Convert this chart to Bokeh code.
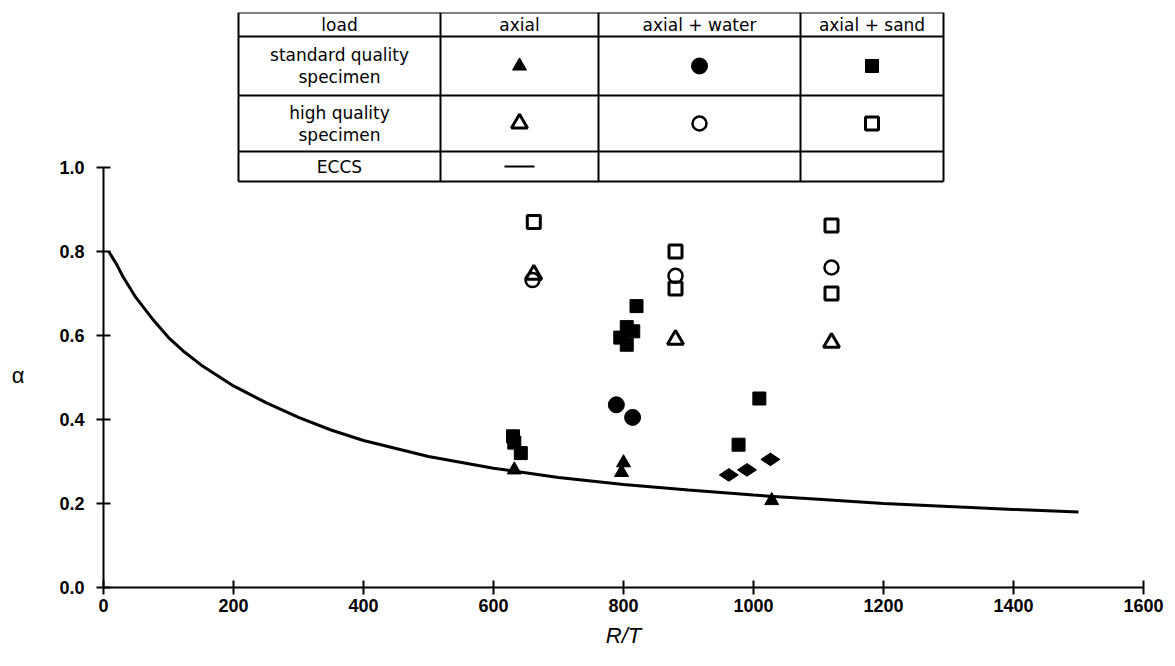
import math
from bokeh.plotting import figure
from bokeh.models import FixedTicker, NumeralTickFormatter
from bokeh.core.properties import value
from bokeh.embed import file_html
from bokeh.resources import INLINE

# ---------------- data ----------------
# standard quality specimens
std_axial_rt = [632, 797, 800, 1028]
std_axial_a = [0.28, 0.274, 0.297, 0.207]
std_water_rt = [789, 814]
std_water_a = [0.435, 0.405]
std_sand_rt = [630, 632, 642, 795, 805, 815, 805, 820, 977, 1009]
std_sand_a = [0.36, 0.345, 0.32, 0.595, 0.62, 0.61, 0.578, 0.67, 0.34, 0.45]
# high quality specimens
hq_axial_rt = [662, 880, 1120]
hq_axial_a = [0.745, 0.59, 0.583]
hq_water_rt = [660, 880, 1120]
hq_water_a = [0.732, 0.742, 0.762]
hq_sand_rt = [662, 880, 880, 1120, 1120]
hq_sand_a = [0.87, 0.80, 0.712, 0.862, 0.70]
# other (diamonds)
other_rt = [962, 990, 1026]
other_a = [0.268, 0.28, 0.305]
# ECCS curve
eccs_rt = [8, 20, 30, 50, 75, 100, 125, 150, 200, 250, 300, 350, 400, 500, 600, 700,
           800, 900, 1000, 1100, 1200, 1300, 1400, 1500]
eccs_a = [0.80, 0.77, 0.74, 0.69, 0.64, 0.595, 0.56, 0.53, 0.48, 0.44, 0.405, 0.375,
          0.35, 0.312, 0.284, 0.262, 0.245, 0.232, 0.22, 0.21, 0.20, 0.193, 0.186, 0.18]

x_ticks = [0, 200, 400, 600, 800, 1000, 1200, 1400, 1600]
y_ticks = [0.0, 0.2, 0.4, 0.6, 0.8, 1.0]

header = ["load", "axial", "axial + water", "axial + sand"]
row_labels = ["standard quality\nspecimen", "high quality\nspecimen", "ECCS"]

FONT = "Liberation Sans"
TFONT = "DejaVu Sans"

# ---------------- figure ----------------
X0_PX, PX_PER_X = 103.0, 0.65      # page pixel mapping (for table layout)
Y0_PX, PX_PER_Y = 587.0, 420.0
def dx(px):
    return (px - X0_PX) / PX_PER_X
def dy(py):
    return (Y0_PX - py) / PX_PER_Y

p = figure(width=1167, height=658, x_range=(0, 1600), y_range=(0, 575 / 420),
           output_backend="svg", toolbar_location=None,
           min_border_left=103, min_border_right=24, min_border_top=12, min_border_bottom=71)
p.outline_line_color = None
p.grid.visible = False
p.background_fill_color = "white"
p.border_fill_color = "white"

# axes
xa = p.xaxis[0]
xa.ticker = FixedTicker(ticks=x_ticks)
xa.bounds = (0, 1600)
xa.axis_line_width = 2
xa.axis_line_color = "black"
xa.major_tick_line_width = 2
xa.major_tick_line_color = "black"
xa.major_tick_in = 7
xa.major_tick_out = 7
xa.minor_tick_line_color = None
xa.major_label_text_font = FONT
xa.major_label_text_font_style = "bold"
xa.major_label_text_font_size = "18px"
xa.major_label_text_color = "black"
xa.major_label_standoff = 4
xa.axis_label = "R/T"
xa.axis_label_text_font = FONT
xa.axis_label_text_font_style = "italic"
xa.axis_label_text_font_size = "22px"
xa.axis_label_text_color = "black"
xa.axis_label_standoff = 8

ya = p.yaxis[0]
ya.ticker = FixedTicker(ticks=y_ticks)
ya.bounds = (0, 1.0)
ya.formatter = NumeralTickFormatter(format="0.0")
ya.axis_line_width = 2
ya.axis_line_color = "black"
ya.major_tick_line_width = 2
ya.major_tick_line_color = "black"
ya.major_tick_in = 7
ya.major_tick_out = 7
ya.minor_tick_line_color = None
ya.major_label_text_font = FONT
ya.major_label_text_font_style = "bold"
ya.major_label_text_font_size = "18px"
ya.major_label_text_color = "black"
ya.major_label_standoff = 12
# label sits at the middle of the 0..1 part of the axis (blank lines push it down)
ya.axis_label = "\n\n\n\n\nα"
ya.axis_label_orientation = "horizontal"
ya.axis_label_text_font = FONT
ya.axis_label_text_font_style = "normal"
ya.axis_label_text_font_size = "22px"
ya.axis_label_text_line_height = 1.2
ya.axis_label_text_color = "black"
ya.axis_label_standoff = 32

# ECCS curve
p.line(eccs_rt, eccs_a, line_color="black", line_width=3)

# data points
p.scatter(std_axial_rt, std_axial_a, marker="triangle", size=14, color="black")
p.scatter(std_water_rt, std_water_a, marker="circle", size=16, color="black")
p.scatter(std_sand_rt, std_sand_a, marker="square", size=13, color="black")
p.scatter(hq_axial_rt, hq_axial_a, marker="triangle", size=16, fill_color=None, line_color="black", line_width=3)
p.scatter(hq_water_rt, hq_water_a, marker="circle", size=14, fill_color=None, line_color="black", line_width=2.5)
p.scatter(hq_sand_rt, hq_sand_a, marker="square", size=13, fill_color=None, line_color="black", line_width=3)
p.scatter(other_rt, other_a, marker="diamond", angle=math.pi / 2, size=19, color="black")

# ---------------- table (legend) ----------------
col_px = [238, 440, 598, 800, 943]
row_px = [12, 36, 95, 151, 181]
xs = [dx(c) for c in col_px]
ys = [dy(r) for r in row_px]
seg_x0, seg_y0, seg_x1, seg_y1 = [], [], [], []
for yv in ys:
    seg_x0.append(xs[0]); seg_x1.append(xs[-1]); seg_y0.append(yv); seg_y1.append(yv)
for xv in xs:
    seg_x0.append(xv); seg_x1.append(xv); seg_y0.append(ys[0]); seg_y1.append(ys[-1])
p.segment(seg_x0, seg_y0, seg_x1, seg_y1, line_color="black", line_width=2)

cx = [(xs[i] + xs[i + 1]) / 2 for i in range(4)]
cy = [(ys[i] + ys[i + 1]) / 2 for i in range(4)]
p.text(cx, [cy[0]] * 4, text=header, text_align="center", text_baseline="middle",
       text_font=value(TFONT), text_font_size="17px", text_color="black")
p.text([cx[0]] * 3, cy[1:], text=row_labels, text_align="center", text_baseline="middle",
       text_font=value(TFONT), text_font_size="17px", text_line_height=1.1, text_color="black")

p.scatter([cx[1]], [cy[1]], marker="triangle", size=14, color="black")
p.scatter([cx[2]], [cy[1]], marker="circle", size=16, color="black")
p.scatter([cx[3]], [cy[1]], marker="square", size=13, color="black")
p.scatter([cx[1]], [cy[2]], marker="triangle", size=16, fill_color=None, line_color="black", line_width=3)
p.scatter([cx[2]], [cy[2]], marker="circle", size=14, fill_color=None, line_color="black", line_width=2.5)
p.scatter([cx[3]], [cy[2]], marker="square", size=13, fill_color=None, line_color="black", line_width=3)
half = 15 / PX_PER_X
p.segment([cx[1] - half], [cy[3]], [cx[1] + half], [cy[3]], line_color="black", line_width=2)

open("out.html", "w").write(file_html(p, INLINE))
